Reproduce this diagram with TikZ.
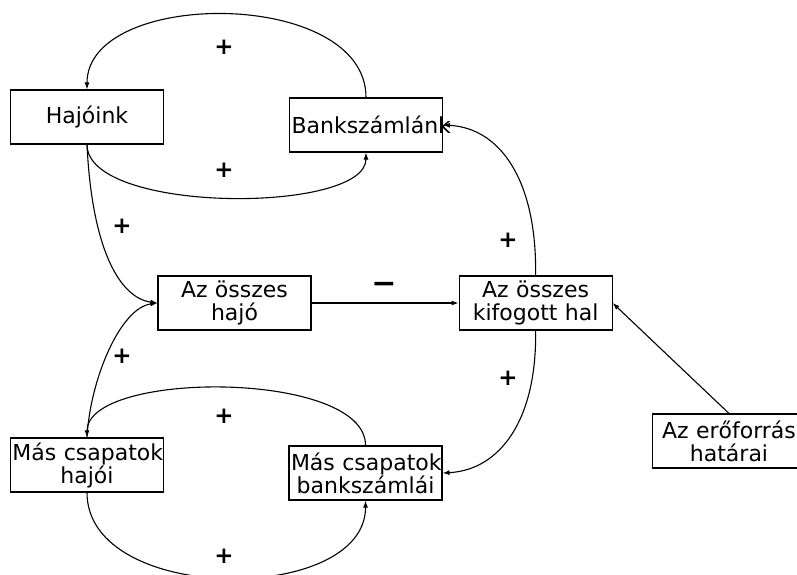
\documentclass[tikz,border=0pt]{standalone}
\usepackage{fontspec}
\setmainfont{DejaVu Sans}
\usetikzlibrary{positioning,arrows.meta}

\begin{document}
\begin{tikzpicture}[x=1pt, y=-1pt,
      arrowstyle/.style={->, line width=1.1pt, >={Latex[length=7pt, width=5pt]}},
      signlabel/.style={font=\fontsize{23}{23}\selectfont\bfseries, inner sep=0pt}]
      % A box style
      \tikzstyle{boxnode} = [draw, rectangle, line width=1.1pt, align=center, text width=149pt,
        minimum height=54pt, inner sep=2pt, font=\fontsize{22}{23}\selectfont]

      \useasboundingbox (0,0) rectangle (797,574);

      % Our own ships and account (top)
      \node (Hajoink) [boxnode] at (87,117) {Hajóink};
      \node (Bank)    [boxnode] at (366,125) {\mbox{Bankszámlánk}};

      % Middle row
      \node (Osszhajo) [boxnode] at (234.5,303) {\mbox{Az összes}\\hajó};
      \node (Kifogott) [boxnode, right=147pt of Osszhajo] {\mbox{Az összes}\\\mbox{kifogott hal}};
      \node (Eroforras) [boxnode] at (729,441) {\mbox{Az erőforrás}\\határai};

      % The other teams (bottom)
      \node (Mashajo) [boxnode] at (87,465) {\mbox{Más csapatok}\\hajói};
      \node (Masbank) [boxnode] at (365.5,473) {\mbox{Más csapatok}\\\mbox{bankszámlái}};

      % Loop of our ships
      \draw [arrowstyle] (Bank.north) .. controls (366,-12) and (87,-12) .. (Hajoink.north);
      \draw [arrowstyle] (Hajoink.south) .. controls (87,214) and (366,214) .. (Bank.south);
      \node [signlabel] at (224,47) {+};
      \node [signlabel] at (224,170) {+};

      % Loop of the other teams
      \draw [arrowstyle] (Masbank.north) .. controls (366,370) and (87,370) .. (Mashajo.north);
      \draw [arrowstyle] (Mashajo.south) .. controls (87,605) and (366,605) .. (Masbank.south);
      \node [signlabel] at (224,416) {+};
      \node [signlabel] at (224,556) {+};

      % Into the total of the ships
      \draw [arrowstyle] (Hajoink.south) .. controls (92,250) and (120,298) .. (Osszhajo.west);
      \draw [arrowstyle] (Mashajo.north) .. controls (90,380) and (120,308) .. (Osszhajo.west);
      \node [signlabel] at (122,226) {+};
      \node [signlabel] at (122,356) {+};

      % Total catch
      \draw [arrowstyle] (Osszhajo) -- (Kifogott);
      \node [font=\fontsize{30}{30}\selectfont\bfseries, inner sep=0pt] at (384,288) {−};
      \draw [arrowstyle] (Eroforras.north) -- (Kifogott.east);
      \draw [arrowstyle] (Kifogott.north) .. controls (537,180) and (500,128) .. (Bank.east);
      \draw [arrowstyle] (Kifogott.south) .. controls (537,420) and (500,470) .. (Masbank.east);
      \node [signlabel] at (508,240) {+};
      \node [signlabel] at (508,378) {+};
\end{tikzpicture}
\end{document}
